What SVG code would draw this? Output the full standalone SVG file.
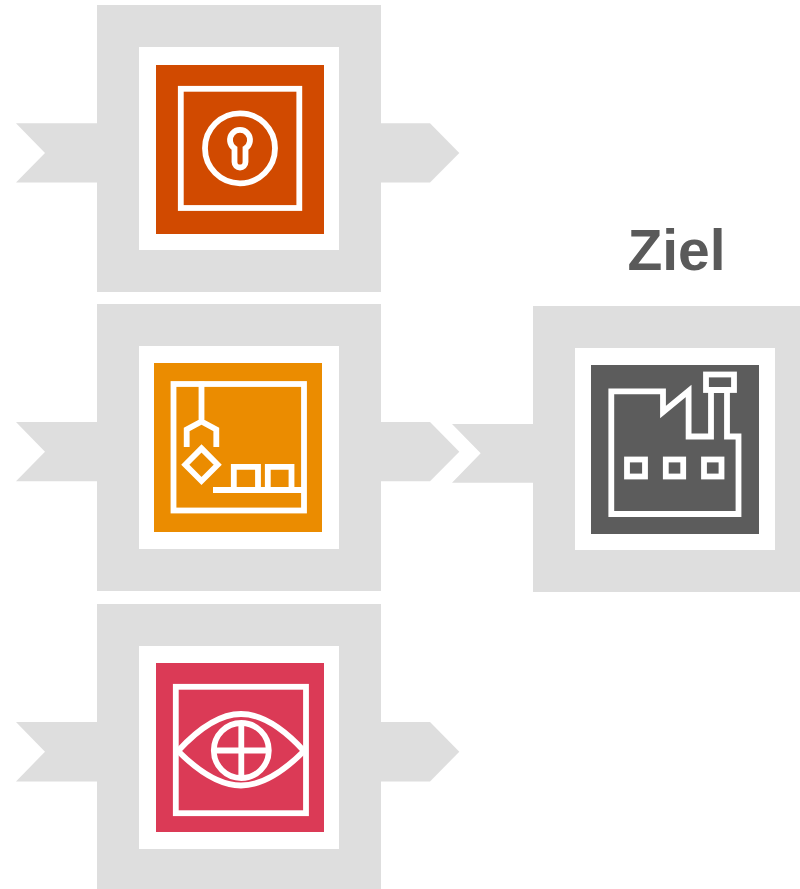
<svg xmlns="http://www.w3.org/2000/svg" width="800" height="889" viewBox="0 0 800 889">
<style>
.frame{fill:#dedede}
.inner{fill:#fff}
.conn{fill:#dedede}
.ico{fill:none;stroke:#fff;stroke-width:5.8;stroke-linejoin:miter}
.label{font-family:"Liberation Sans",Arial,sans-serif;font-weight:700;font-size:57px;fill:#5a5a5a;text-anchor:middle}
</style>
<rect width="800" height="889" fill="#fff"/>
<g id="connectors">
<path class="conn" d="M16 123.3H97V182.5H16L45 153Z"/>
<path class="conn" d="M381 123.3H430L459.3 153L430 182.5H381Z"/>
<path class="conn" d="M16 422H97V481.3H16L45 451.7Z"/>
<path class="conn" d="M381 422H430L459.3 451.7L430 481.3H381Z"/>
<path class="conn" d="M16 722H97V781.5H16L45 751.7Z"/>
<path class="conn" d="M381 722H430L459.3 751.7L430 781.5H381Z"/>
<path class="conn" d="M452 424H533V482.7H452L480.7 453.3Z"/>
</g>
<g id="node-key">
<rect class="frame" x="97" y="5" width="284" height="287"/>
<rect class="inner" x="139" y="47" width="200" height="203"/>
<rect x="156" y="65" width="168" height="169" fill="#d14a00"/>
<rect class="ico" x="180.8" y="88.8" width="118.5" height="119.2"/>
<circle class="ico" cx="240" cy="148.3" r="35"/>
<path class="ico" d="M234.5 148.3A10 10 0 1 1 245.5 148.3V162A5.5 5.5 0 0 1 234.5 162Z"/>
</g>
<g id="node-robot">
<rect class="frame" x="97" y="304" width="284" height="287"/>
<rect class="inner" x="139" y="346" width="200" height="203"/>
<rect x="154" y="363" width="168" height="169" fill="#eb8c00"/>
<rect class="ico" x="173.5" y="384" width="130.5" height="126.5"/>
<path class="ico" d="M201.5 381.5V421.5M186.7 447V429.5L201.5 421.5L216.3 429.5V447"/>
<path class="ico" d="M201.5 448.4L217.7 464.7L201.5 481L185.3 464.7Z"/>
<path class="ico" d="M213 490H304M233.8 490V466.8H258V490M267.8 490V466.8H291.5V490"/>
</g>
<g id="node-eye">
<rect class="frame" x="97" y="604" width="284" height="285"/>
<rect class="inner" x="139" y="646" width="200" height="203"/>
<rect x="156" y="663" width="168" height="169" fill="#db3a56"/>
<rect class="ico" x="175.8" y="686.8" width="130.2" height="126.4"/>
<path class="ico" d="M178 751C200 727 220 714 241 714C262 714 282 727 304 751C282 773 262 785.5 241 785.5C220 785.5 200 773 178 751Z"/>
<circle class="ico" cx="241.3" cy="750.5" r="27.5"/>
<path class="ico" d="M241.3 723V778M213.8 750.5H268.8"/>
</g>
<g id="node-target">
<text class="label" x="676.5" y="270">Ziel</text>
<rect class="frame" x="533" y="306" width="267" height="286"/>
<rect class="inner" x="575" y="348" width="200" height="202"/>
<rect x="591" y="365" width="168" height="169" fill="#5c5c5c"/>
<path class="ico" d="M611.3 391.3H663V412L688.6 391V436.5H711V390H727V436.5H738.5V514H611.3Z"/>
<rect class="ico" x="706" y="374.5" width="28" height="15.5"/>
<rect class="ico" x="627" y="459.5" width="18" height="17"/>
<rect class="ico" x="665.8" y="459.5" width="17.4" height="17"/>
<rect class="ico" x="704" y="459.5" width="17.5" height="17"/>
</g>
</svg>
